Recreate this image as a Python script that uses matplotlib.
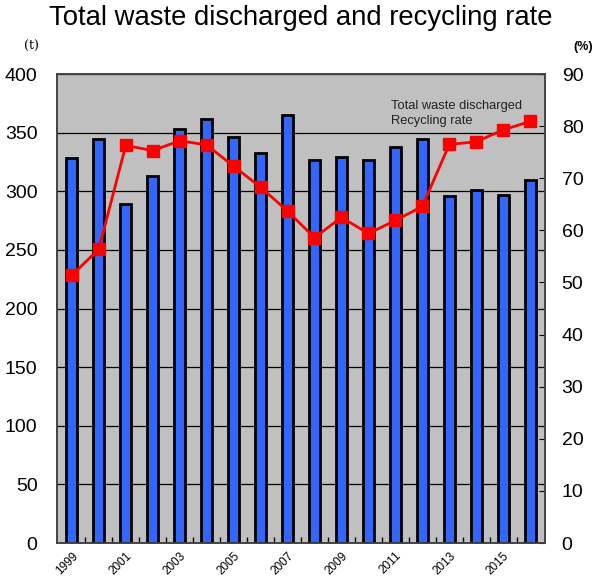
import numpy as np
import matplotlib
matplotlib.use("Agg")
import matplotlib.pyplot as plt
from matplotlib.ticker import MultipleLocator

plt.rcParams['font.family'] = ['Liberation Sans', 'DejaVu Sans']

years = list(range(1999, 2017))
waste = [328, 345, 289, 313, 353, 362, 346, 333, 365, 327, 329, 327, 338, 345, 296, 301, 297, 310]
recycling = [51.4, 56.4, 76.3, 75.3, 77.2, 76.4, 72.3, 68.3, 63.7, 58.6, 62.5, 59.4, 61.9, 64.6, 76.5, 77.0, 79.3, 80.9]
year_labels = [str(y) if y % 2 == 1 else "" for y in years]

fig = plt.figure(figsize=(6.02, 5.83), dpi=100)
ax = fig.add_axes([0.0947, 0.0686, 0.8106, 0.8044])
ax2 = ax.twinx()

x = np.arange(len(years))
ax.set_facecolor("#C0C0C0")
ax.bar(x, waste, width=0.4, color="#3366FF", edgecolor="black", linewidth=2, zorder=3)
ax.set_ylim(0, 400)
ax.set_xlim(-0.55, len(years) - 0.45)
ax.yaxis.set_major_locator(MultipleLocator(50))
ax.grid(axis="y", color="black", linewidth=0.9, zorder=0)
ax.set_axisbelow(True)
ax.tick_params(axis="y", length=0, labelsize=14, pad=14)
ax.set_xticks(x)
ax.set_xticklabels(year_labels, rotation=45, fontsize=8.5, ha="right", rotation_mode="anchor")
ax.set_xticks(x[:-1] + 0.5, minor=True)
ax.tick_params(axis="x", which="major", length=0, pad=5)
ax.tick_params(axis="x", which="minor", length=4, direction="in", width=1)

ax2.plot(x, recycling, color="red", linewidth=2, marker="s", markersize=8, zorder=4)
ax2.set_ylim(0, 90)
ax2.yaxis.set_major_locator(MultipleLocator(10))
ax2.tick_params(axis="y", direction="in", length=4, labelsize=14, pad=12)

for a in (ax, ax2):
    for s in a.spines.values():
        s.set_color("#444444")
        s.set_linewidth(1.2)

fig.text(0.5, 0.992, "Total waste discharged and recycling rate", ha="center", va="top", fontsize=19.8)
fig.text(0.052, 0.92, "(t)", ha="center", va="center", fontsize=9, family="DejaVu Serif")
fig.text(0.968, 0.92, "(%)", ha="center", va="center", fontsize=9, fontweight="bold")

ax.text(0.685, 0.945, "Total waste discharged\nRecycling rate", transform=ax.transAxes,
        ha="left", va="top", fontsize=9.3, linespacing=1.35, color="#222222")

fig.savefig("out.png", dpi=100)
